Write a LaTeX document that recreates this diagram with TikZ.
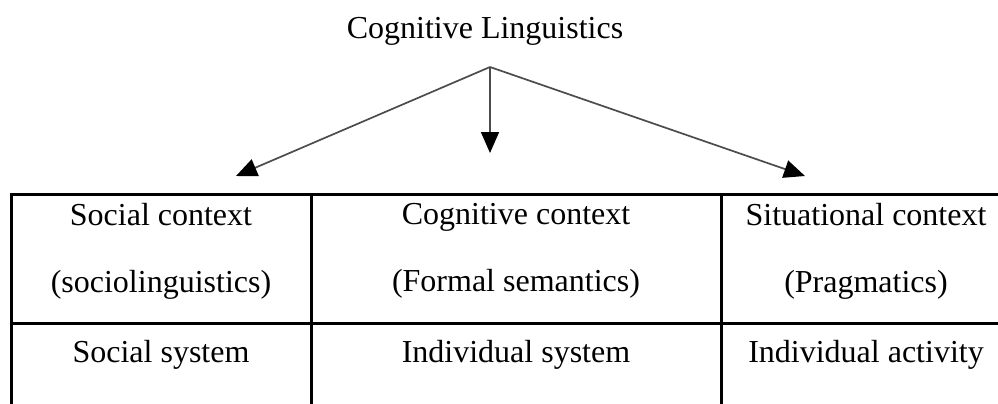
\documentclass[tikz,border=0pt]{standalone}
\usepackage{fontspec}
\setmainfont{Liberation Serif}
\usetikzlibrary{arrows.meta}
\tikzset{
  branch/.style={draw=black!70, line width=1.7pt, -{Triangle[length=21pt,width=18pt,color=black]}},
  cell/.style={align=center, inner sep=0pt},
  rule/.style={line width=3pt, line cap=rect}
}

\begin{document}
\begin{tikzpicture}[x=1pt,y=-1pt,font=\fontsize{32}{67}\selectfont]
		\useasboundingbox (0,0) rectangle (998,404);
		\clip (0,0) rectangle (998,404);
		\path (485,38) node(title)[anchor=base]{Cognitive Linguistics}
		(490,67) coordinate(fork)
		(236,176) coordinate(social)
		(490,153) coordinate(cognitive)
		(805,176) coordinate(situational);
		\draw[branch] (fork) -- (social);
		\draw[branch] (fork) -- (cognitive);
		\draw[branch] (fork) -- (situational);
		% table
		\draw[rule] (1010,194) -- (11,194) -- (11,420);
		\draw[rule] (11,323) -- (1010,323);
		\draw[rule] (311,194) -- (311,420);
		\draw[rule] (721,194) -- (721,420);
		\path (161,203) node(socctx)[cell,anchor=north]{Social context\\(sociolinguistics)}
		(516,203) node(cogctx)[cell,anchor=north]{Cognitive context\\(Formal semantics)}
		(866,203) node(sitctx)[cell,anchor=north]{Situational context\\(Pragmatics)};
		\path (161,362) node(socsys)[cell,anchor=base]{Social system}
		(516,362) node(indsys)[cell,anchor=base]{Individual system}
		(866,362) node(indact)[cell,anchor=base]{Individual activity};
 \end{tikzpicture}
\end{document}
